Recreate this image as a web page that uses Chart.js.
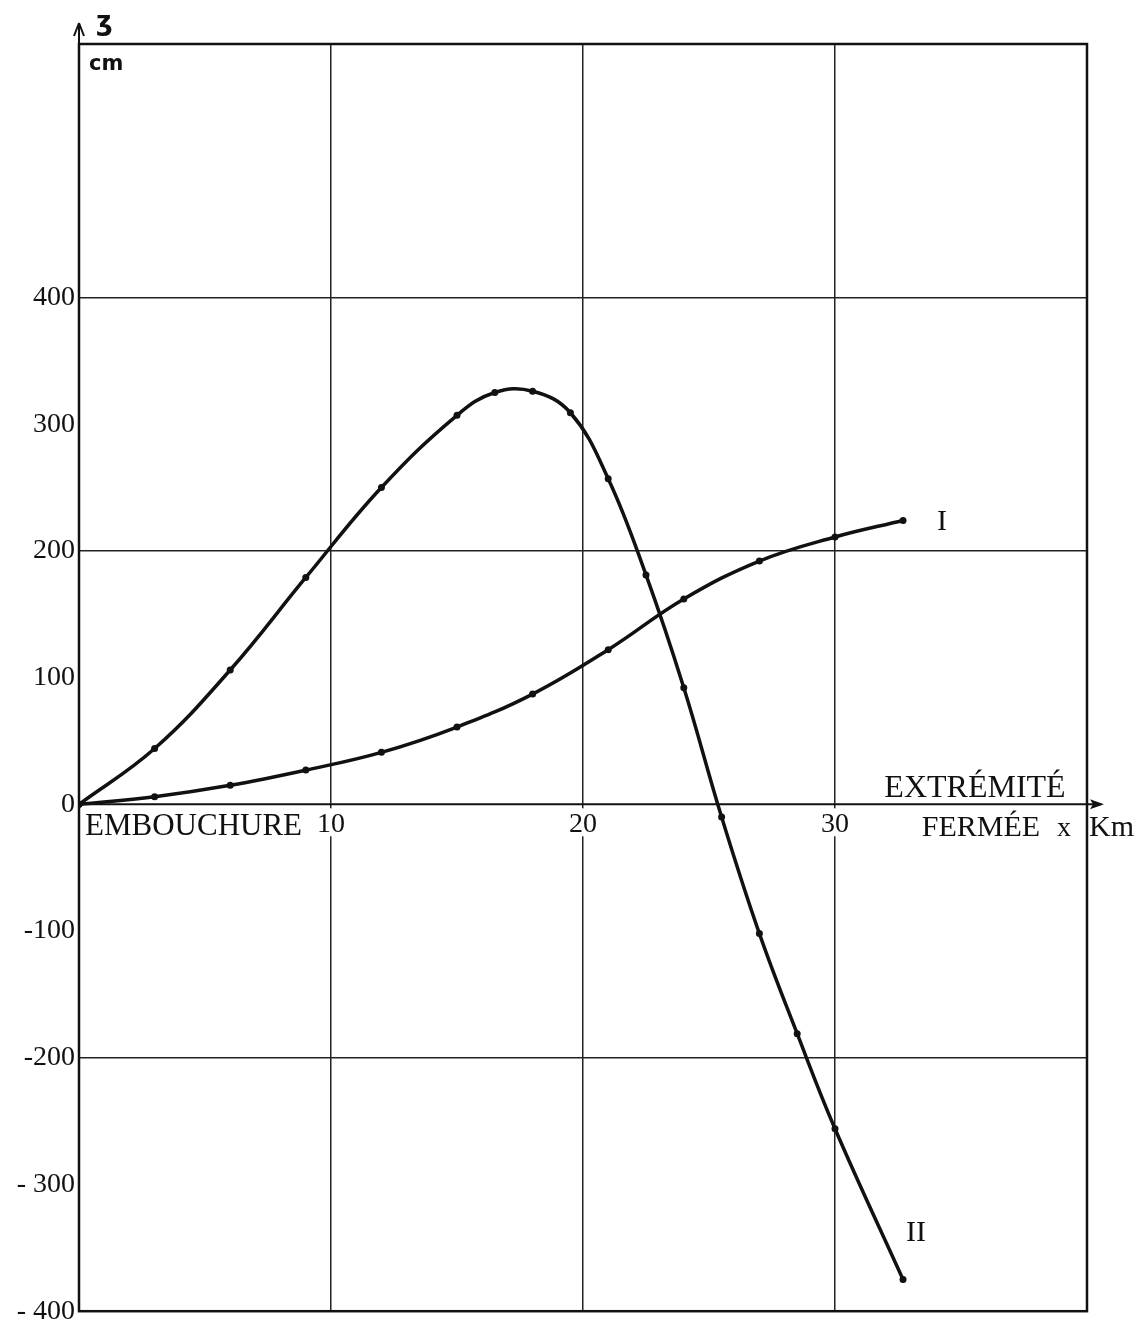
<!DOCTYPE html>
<html lang="fr">
<head>
    <meta charset="UTF-8">
    <title>Courbes I et II</title>
    <script src="https://cdn.jsdelivr.net/npm/chart.js"></script>
    <style>
        html, body { margin: 0; padding: 0; background: #fff; }
        canvas { display: block; }
    </style>
</head>
<body>
    <canvas id="chart" width="1145" height="1332"></canvas>

    <script>
        // distance from the mouth (km)
        const xCourbeI = [0, 3, 6, 9, 12, 15, 18, 21, 24, 27, 30, 32.7];
        const yCourbeI = [0, 6, 15, 27, 41, 61, 87, 122, 162, 192, 211, 224];

        const xCourbeII = [0, 3, 6, 9, 12, 15, 16.5, 18, 19.5, 21, 22.5, 24, 25.5, 27, 28.5, 30, 32.7];
        const yCourbeII = [0, 44, 106, 179, 250, 307, 325, 326, 309, 257, 181, 92, -10, -102, -181, -256, -375];

        const xTicks = [10, 20, 30];
        const yTickValues = [-400, -300, -200, -100, 0, 100, 200, 300, 400];
        const yTickLabels = ['- 400', '- 300', '-200', '-100', '0', '100', '200', '300', '400'];

        const serif = '"Liberation Serif", "DejaVu Serif", serif';

        function toPoints(xs, ys) {
            return xs.map((x, i) => ({ x: x, y: ys[i] }));
        }

        function text(ctx, str, x, y, font, align) {
            ctx.font = font;
            ctx.textAlign = align || 'left';
            ctx.textBaseline = 'alphabetic';
            ctx.fillText(str, x, y);
        }

        const decorations = {
            id: 'decorations',
            beforeDraw(chart) {
                const ctx = chart.ctx;
                ctx.save();
                ctx.fillStyle = '#fff';
                ctx.fillRect(0, 0, chart.width, chart.height);
                ctx.restore();
            },
            afterDraw(chart) {
                const ctx = chart.ctx;
                const a = chart.chartArea;
                const xs = chart.scales.x;
                const ys = chart.scales.y;
                const y0 = ys.getPixelForValue(0);

                ctx.save();
                ctx.strokeStyle = '#111';
                ctx.fillStyle = '#111';

                // frame
                ctx.lineWidth = 2.5;
                ctx.strokeRect(a.left, a.top, a.right - a.left, a.bottom - a.top);

                // x axis arrow
                ctx.lineWidth = 2;
                ctx.beginPath();
                ctx.moveTo(a.left, y0);
                ctx.lineTo(a.right + 14, y0);
                ctx.stroke();
                ctx.beginPath();
                ctx.moveTo(a.right + 17, y0);
                ctx.lineTo(a.right + 3, y0 - 5);
                ctx.lineTo(a.right + 6, y0);
                ctx.lineTo(a.right + 3, y0 + 5);
                ctx.closePath();
                ctx.fill();

                // y axis arrow
                ctx.beginPath();
                ctx.moveTo(a.left, a.top);
                ctx.lineTo(a.left, a.top - 18);
                ctx.stroke();
                ctx.beginPath();
                ctx.moveTo(a.left, a.top - 21);
                ctx.lineTo(a.left - 5, a.top - 8);
                ctx.moveTo(a.left, a.top - 21);
                ctx.lineTo(a.left + 5, a.top - 8);
                ctx.stroke();

                // x tick labels inside the plot, just under the zero line
                xTicks.forEach(v => {
                    const px = xs.getPixelForValue(v);
                    const f = '28px ' + serif;
                    ctx.font = f;
                    const w = ctx.measureText(String(v)).width;
                    ctx.fillStyle = '#fff';
                    ctx.fillRect(px - w / 2 - 1, y0 + 4, w + 2, 28);
                    ctx.fillStyle = '#111';
                    text(ctx, String(v), px, y0 + 28, f, 'center');
                });

                // axis words
                text(ctx, 'EMBOUCHURE', a.left + 6, y0 + 31, '31px ' + serif);
                text(ctx, 'EXTRÉMITÉ', 975, y0 - 7, '32px ' + serif, 'center');
                text(ctx, 'FERMÉE', 981, y0 + 32, '30px ' + serif, 'center');
                text(ctx, 'x', 1064, y0 + 32, '28px ' + serif, 'center');
                text(ctx, 'Km', 1089, y0 + 32, '30px ' + serif);

                // y axis unit
                text(ctx, 'ʒ', 96, 30, 'bold 26px "DejaVu Sans", sans-serif');
                text(ctx, 'cm', 89, 70, 'bold 21px "DejaVu Sans", sans-serif');

                // curve names
                const lastI = xCourbeI.length - 1;
                const lastII = xCourbeII.length - 1;
                text(ctx, 'I', xs.getPixelForValue(xCourbeI[lastI]) + 39,
                    ys.getPixelForValue(yCourbeI[lastI]) + 10, '30px ' + serif, 'center');
                text(ctx, 'II', xs.getPixelForValue(xCourbeII[lastII]) + 13,
                    ys.getPixelForValue(yCourbeII[lastII]) - 39, '30px ' + serif, 'center');

                ctx.restore();
            }
        };

        const lineStyle = {
            borderColor: '#111',
            backgroundColor: '#111',
            borderWidth: 3.5,
            pointRadius: 3.5,
            pointHoverRadius: 3.5,
            pointBackgroundColor: '#111',
            pointBorderWidth: 0,
            tension: 0.4,
            fill: false
        };

        new Chart(document.getElementById('chart'), {
            type: 'line',
            data: {
                datasets: [
                    Object.assign({ label: 'I', data: toPoints(xCourbeI, yCourbeI) }, lineStyle),
                    Object.assign({ label: 'II', data: toPoints(xCourbeII, yCourbeII) }, lineStyle)
                ]
            },
            options: {
                responsive: false,
                animation: false,
                layout: { padding: { top: 44, right: 58, bottom: 20, left: 0 } },
                plugins: {
                    legend: { display: false },
                    tooltip: { enabled: false }
                },
                scales: {
                    x: {
                        type: 'linear',
                        min: 0,
                        max: 40,
                        ticks: { stepSize: 10, display: false },
                        grid: {
                            drawTicks: false,
                            lineWidth: 1.5,
                            color: c => (c.tick && c.tick.value > 0 && c.tick.value < 40) ? '#222' : 'rgba(0,0,0,0)'
                        },
                        border: { display: false },
                        afterFit: s => { s.height = 0; }
                    },
                    y: {
                        type: 'linear',
                        min: -400,
                        max: 600,
                        ticks: {
                            stepSize: 100,
                            autoSkip: false,
                            padding: 4,
                            color: '#111',
                            font: { family: serif, size: 28 },
                            callback: v => {
                                const i = yTickValues.indexOf(v);
                                return i >= 0 ? yTickLabels[i] : '';
                            }
                        },
                        grid: {
                            drawTicks: false,
                            lineWidth: 1.5,
                            color: c => {
                                const v = c.tick ? c.tick.value : null;
                                return (v !== null && v % 200 === 0 && v > -400 && v < 600 && v !== 0) ? '#222' : 'rgba(0,0,0,0)';
                            }
                        },
                        border: { display: false },
                        afterFit: s => { s.width = 79; }
                    }
                }
            },
            plugins: [decorations]
        });
    </script>
</body>
</html>
